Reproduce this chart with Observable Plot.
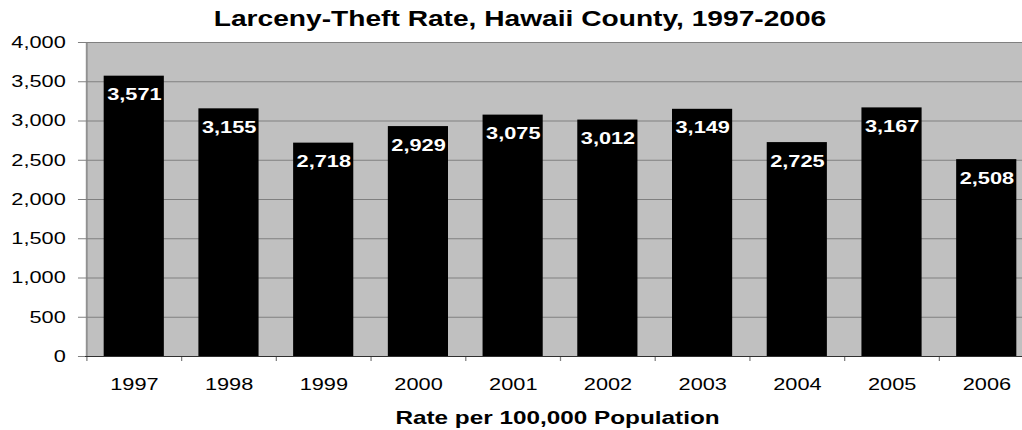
<!DOCTYPE html>
<html>
<head>
<meta charset="utf-8">
<script src="https://cdn.jsdelivr.net/npm/d3@7"></script>
<script src="https://cdn.jsdelivr.net/npm/@observablehq/plot@0.6"></script>
<style>
  html, body { margin: 0; padding: 0; background: white; overflow: hidden; }
  #wrap { width: 1022px; height: 430px; overflow: hidden; position: relative; }
  #wrap svg { transform: scaleX(1.28); transform-origin: 0 0; display: block; }
</style>
</head>
<body>
<div id="wrap"></div>
<script>
const years = ["1997","1998","1999","2000","2001","2002","2003","2004","2005","2006"];
const rates = [3571, 3155, 2718, 2929, 3075, 3012, 3149, 2725, 3167, 2508];
const yTicks = [0, 500, 1000, 1500, 2000, 2500, 3000, 3500, 4000];
const titleText = "Larceny-Theft Rate, Hawaii County, 1997-2006";
const xTitle = "Rate per 100,000 Population";

const S = 1.28;
const data = years.map((y, i) => ({year: y, rate: rates[i]}));
const W = 1035 / S, ML = 85 / S, MR = 0;
const step = (W - ML - MR) / years.length;
const font = "'Liberation Sans', Arial, Helvetica, sans-serif";
const fmt = d3.format(",");

const chart = Plot.plot({
  width: W, height: 430,
  marginLeft: ML, marginRight: MR, marginTop: 42, marginBottom: 74,
  style: {fontFamily: font, background: "white", color: "black", overflow: "visible"},
  x: {domain: years, paddingInner: 0.37, paddingOuter: 0.185},
  y: {domain: [0, 4000]},
  marks: [
    Plot.frame({fill: "#c0c0c0", stroke: null}),
    Plot.ruleY(yTicks, {stroke: "#808080", strokeWidth: 1}),
    Plot.barY(data, {x: "year", y: "rate", fill: "black"}),
    Plot.text(data, {x: "year", y: "rate", text: d => fmt(d.rate), fill: "white",
      fontWeight: "bold", fontSize: 17, lineAnchor: "top", dy: 12}),
    Plot.ruleX([years[0]], {dx: -step / 2, stroke: "#808080"}),
    Plot.ruleX(years, {x: d => d, y1: 0, y2: -64, dx: -step / 2, stroke: "#808080"}),
    Plot.ruleY([0], {stroke: "#303030"}),
    Plot.axisY({ticks: yTicks, tickFormat: d => fmt(d), tickSize: 5.5, tickPadding: 10,
      fontSize: 17, stroke: "#808080", fill: "black", label: null}),
    Plot.axisX({tickSize: 0, tickPadding: 21, fontSize: 17, fill: "black", label: null})
  ]
});

const svg = d3.select(chart);
svg.append("text").attr("x", 520 / S).attr("y", 26)
  .attr("text-anchor", "middle").attr("font-weight", "bold").attr("font-size", 22)
  .attr("font-family", font).attr("fill", "black").text(titleText);
svg.append("text").attr("x", 557.5 / S).attr("y", 424)
  .attr("text-anchor", "middle").attr("font-weight", "bold").attr("font-size", 19)
  .attr("font-family", font).attr("fill", "black").text(xTitle);

document.getElementById("wrap").appendChild(chart);
</script>
</body>
</html>
